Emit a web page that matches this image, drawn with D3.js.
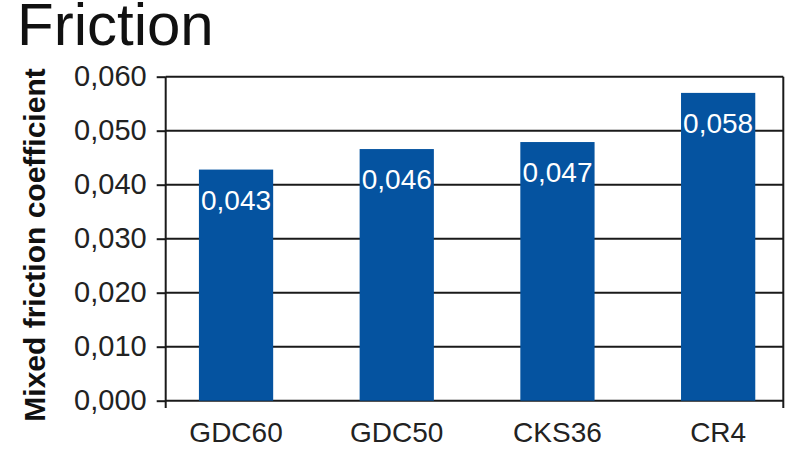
<!DOCTYPE html>
<html>
<head>
<meta charset="utf-8">
<script src="https://cdn.jsdelivr.net/npm/d3@7"></script>
<style>
html,body{margin:0;padding:0;background:#fff;}
svg{display:block;font-family:"Liberation Sans",Arial,sans-serif;}
</style>
</head>
<body>
<svg id="chart" width="800" height="450"></svg>
<script>
const categories = ["GDC60", "GDC50", "CKS36", "CR4"];
const values = [0.0428, 0.0466, 0.0479, 0.0570];
const valueLabels = ["0,043", "0,046", "0,047", "0,058"];
const yTicks = [0, 0.01, 0.02, 0.03, 0.04, 0.05, 0.06];
const title = "Friction";
const yTitle = "Mixed friction coefficient";

const svg = d3.select("#chart");
const plotL = 165.7, plotR = 783.3, plotT = 76.7, plotB = 400.7;
const fmt = v => d3.format(".3f")(v).replace(".", ",");

const y = d3.scaleLinear().domain([0, 0.06]).range([plotB, plotT]);
const x = d3.scaleBand().domain(categories).range([155.7, 798.5])
  .paddingInner(0.538).paddingOuter(0.269);

// title
svg.append("text").attr("x", 17).attr("y", 45)
  .attr("font-size", 60).attr("fill", "#111").text(title);

// y axis title
svg.append("text")
  .attr("transform", `translate(45,245) rotate(-90)`)
  .attr("text-anchor", "middle").attr("font-weight", "bold")
  .attr("font-size", 30).attr("fill", "#111").text(yTitle);

// gridlines
svg.append("g").selectAll("line").data(yTicks).join("line")
  .attr("x1", plotL).attr("x2", plotR)
  .attr("y1", d => y(d)).attr("y2", d => y(d))
  .attr("stroke", "#1a1a1a").attr("stroke-width", 2);

// bars
svg.append("g").selectAll("rect").data(values).join("rect")
  .attr("x", (d, i) => x(categories[i]))
  .attr("width", x.bandwidth())
  .attr("y", d => y(d))
  .attr("height", d => plotB - y(d))
  .attr("fill", "#0553a0");

// value labels
svg.append("g").selectAll("text").data(values).join("text")
  .attr("x", (d, i) => x(categories[i]) + x.bandwidth() / 2)
  .attr("y", d => y(d) + 40)
  .attr("text-anchor", "middle").attr("font-size", 28).attr("fill", "#fff")
  .text((d, i) => valueLabels[i]);

// left axis
const yAxis = d3.axisLeft(y).tickValues(yTicks).tickFormat(fmt)
  .tickSizeInner(9).tickSizeOuter(0).tickPadding(10);
const ga = svg.append("g").attr("transform", `translate(${plotL},0)`).call(yAxis);
ga.select(".domain").remove();
ga.selectAll(".tick line").attr("stroke", "#1a1a1a").attr("stroke-width", 2);
ga.selectAll(".tick text").attr("font-size", 29).attr("fill", "#222")
  .attr("font-family", "Liberation Sans, Arial, sans-serif");
ga.append("line").attr("x1", 0).attr("x2", 0).attr("y1", plotT).attr("y2", 408)
  .attr("stroke", "#1a1a1a").attr("stroke-width", 2);

// right border
svg.append("line").attr("x1", plotR).attr("x2", plotR).attr("y1", plotT).attr("y2", 408)
  .attr("stroke", "#1a1a1a").attr("stroke-width", 2);

// category labels
svg.append("g").selectAll("text").data(categories).join("text")
  .attr("x", d => x(d) + x.bandwidth() / 2)
  .attr("y", 442)
  .attr("text-anchor", "middle").attr("font-size", 28).attr("fill", "#222")
  .text(d => d);
</script>
</body>
</html>
